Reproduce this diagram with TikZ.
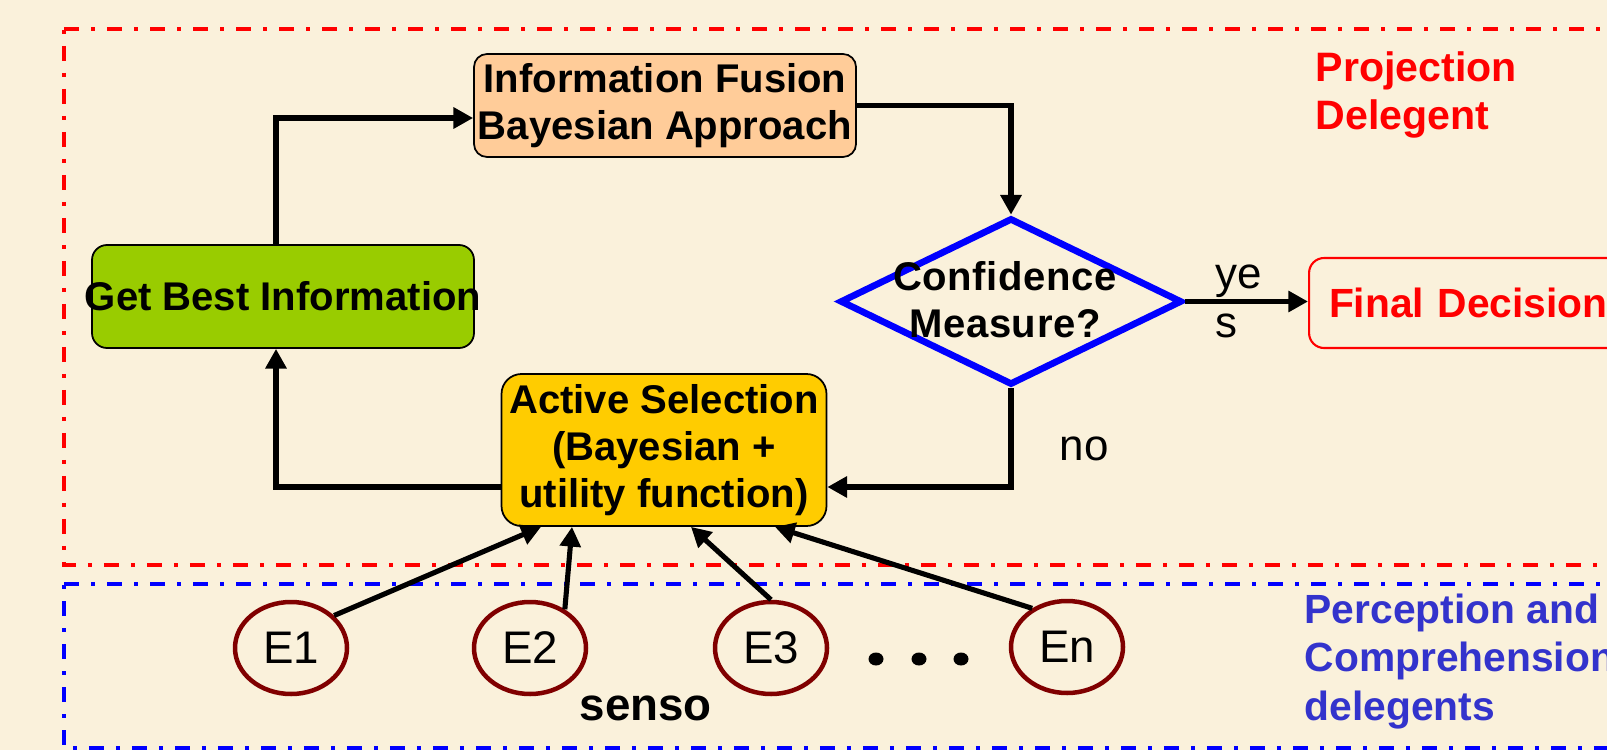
\documentclass[tikz,border=0pt]{standalone}
\usepackage{fontspec}
\setmainfont{Liberation Sans}
\usetikzlibrary{shapes.geometric,arrows.meta,calc}

\definecolor{paper}{RGB}{250,241,219}
\definecolor{fusionfill}{RGB}{255,204,153}
\definecolor{bestfill}{RGB}{153,204,0}
\definecolor{selectfill}{RGB}{255,204,0}
\definecolor{sensorline}{RGB}{128,0,0}
\definecolor{percblue}{RGB}{51,51,204}

\begin{document}
\begin{tikzpicture}[x=0.1mm,y=-0.1mm,
  boxtext/.style={font=\bfseries\fontsize{11.4}{13.4}\selectfont},
  procbox/.style={boxtext, draw=black, line width=0.5pt, inner sep=0pt, align=center},
  flow/.style={line width=1.45pt, -{Triangle[length=5.6pt,width=5.8pt]}},
  sensor/.style={ellipse, draw=sensorline, line width=0.45mm, minimum width=11.2mm,
    minimum height=9.2mm, inner sep=0pt, font=\fontsize{13}{15}\selectfont},
  lbl/.style={font=\fontsize{12.5}{13.7}\selectfont, inner sep=0pt},
  zone/.style={line width=1.2pt, dash pattern=on 1.5mm off 1.2mm on 0.4mm off 1.2mm},
]
% page and background
\fill[paper] (0,0) rectangle (1607,750);
\useasboundingbox (0,0) rectangle (1607,750);
\clip (0,0) rectangle (1607,750);

% delegent zones
\draw[zone, red] (64,29) -- (1650,29);
\draw[zone, red, dash phase=2.6mm] (64,29) -- (64,565) -- (1650,565);
\draw[zone, blue] (64,584) -- (1650,584);
\draw[zone, blue, dash phase=2.6mm] (64,584) -- (64,748) -- (1650,748);

% process boxes
\node[procbox, fill=fusionfill, rounded corners=1.3mm, minimum width=38.2mm,
      minimum height=10.3mm] (fusion) at (665,105.5) {Information Fusion\\Bayesian Approach};
\node[procbox, fill=bestfill, rounded corners=1.5mm, minimum width=38.2mm,
      minimum height=10.3mm] (best) at (283,296.5) {\makebox[0pt]{Get Best Information}};
\node[procbox, fill=selectfill, rounded corners=2mm, minimum width=32.5mm,
      minimum height=15.2mm] (select) at (664,450) {Active Selection\\(Bayesian +\\utility function)};

% decision
\node[diamond, draw=blue, line width=1.9pt, minimum width=34.2mm, minimum height=16.7mm,
      inner sep=0pt] (conf) at (1011,301.5) {};
\node[boxtext, inner sep=0pt, align=center] (conftext) at (1005,300)
      {\addfontfeatures{LetterSpace=1.5}Confidence\\\addfontfeatures{LetterSpace=1.5}Measure?};

\node[draw=red, line width=0.6pt, rounded corners=1.5mm, anchor=west, minimum height=9mm,
      text width=30mm, inner xsep=2mm, inner ysep=0pt, align=left, text=red,
      font=\bfseries\fontsize{11.6}{13.9}\selectfont] (final) at (1308,303) {Final Decision};

% zone titles (base anchor sits on the last line)
\node[anchor=base west, text=red, font=\bfseries\fontsize{11.7}{13.7}\selectfont,
      align=left, inner sep=0pt] (projlabel) at (1315,130) {Projection\\Delegent};
\node[anchor=base west, text=percblue, font=\bfseries\fontsize{11.6}{13.7}\selectfont,
      align=left, inner sep=0pt] (perclabel) at (1304,720) {Perception and\\Comprehension\\delegents};

% sensors
\node[sensor] (e1) at (291,648) {E1};
\node[sensor] (e2) at (530,648) {E2};
\node[sensor] (e3) at (771,648) {E3};
\node[sensor] (en) at (1067,647) {En};
\fill (876,659) ellipse [x radius=0.75mm, y radius=0.65mm];
\fill (919,659) ellipse [x radius=0.75mm, y radius=0.65mm];
\fill (961,659) ellipse [x radius=0.75mm, y radius=0.65mm];
\node[anchor=base west, font=\bfseries\fontsize{13}{15}\selectfont, inner sep=0pt]
      (sensolabel) at (579,720) {senso};

% branch labels
\node[lbl, anchor=base west, align=left] (yeslabel) at (1215,337) {ye\\s};
\node[lbl, anchor=base west] (nolabel) at (1059,460) {no};

% flow
\draw[flow] ($(best.north)+(-7,0)$) |- ($(fusion.west)+(0,12.5)$);
\draw[flow] (fusion.east) -| (conf.north);
\draw[flow] (conf.east) -- (conf.east -| final.west);
\draw[flow] (conf.south) |- ($(select.east)+(0,37)$);
\draw[flow] ($(select.west)+(0,37)$) -| ($(best.south)+(-7,0)$);

\draw[flow] (e1.37) -- ($(select.south)+(-123,0)$);
\draw[flow] (e2.48) -- ($(select.south)+(-92,0)$);
\draw[flow] (e3.north) -- ($(select.south)+(27,0)$);
\draw[flow] (en.132) -- ($(select.south)+(111,0)$);
\end{tikzpicture}
\end{document}
